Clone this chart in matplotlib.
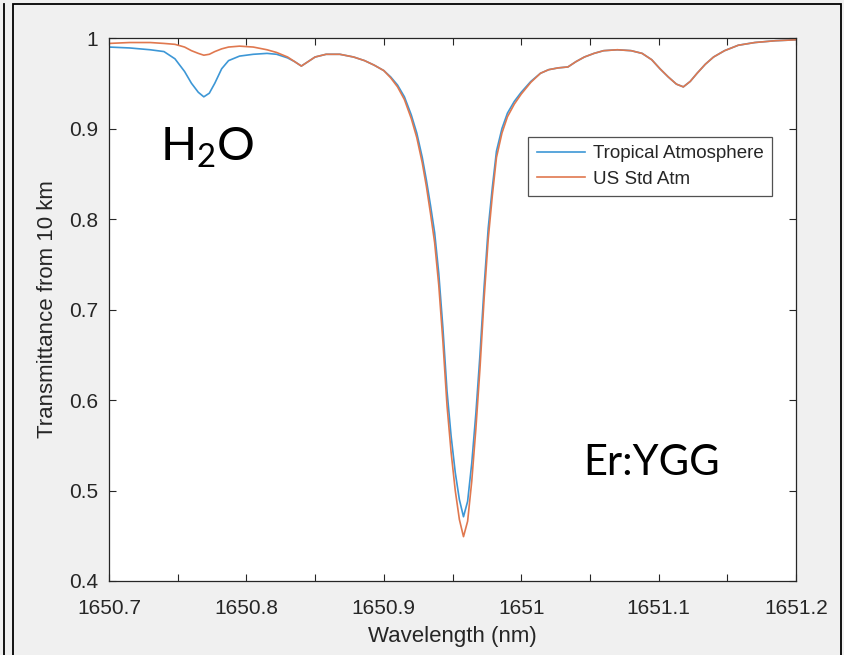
import matplotlib
matplotlib.use("Agg")
import matplotlib.pyplot as plt
from matplotlib.lines import Line2D
from matplotlib.patches import Rectangle
from matplotlib.ticker import MultipleLocator

# Transmittance from 10 km altitude near the Er:YGG line (wavelength in nm)
wavelength = [
    1650.700, 1650.715, 1650.730, 1650.740, 1650.748, 1650.755, 1650.760,
    1650.765, 1650.769, 1650.773, 1650.777, 1650.782, 1650.787, 1650.795,
    1650.805, 1650.815, 1650.822, 1650.830, 1650.835, 1650.840, 1650.845,
    1650.850, 1650.858, 1650.868, 1650.878, 1650.886, 1650.893, 1650.900,
    1650.905, 1650.910, 1650.915, 1650.920, 1650.924, 1650.928, 1650.931,
    1650.934, 1650.937, 1650.940, 1650.943, 1650.946, 1650.949, 1650.952,
    1650.955, 1650.958, 1650.961, 1650.964, 1650.967, 1650.970, 1650.973,
    1650.976, 1650.979, 1650.982, 1650.986, 1650.990, 1650.995, 1651.000,
    1651.007, 1651.014, 1651.020, 1651.027, 1651.034, 1651.040, 1651.046,
    1651.053, 1651.060, 1651.070, 1651.080, 1651.088, 1651.095, 1651.101,
    1651.107, 1651.113, 1651.118, 1651.123, 1651.128, 1651.134, 1651.140,
    1651.148, 1651.158, 1651.170, 1651.185, 1651.200,
]

tropical = [
    0.990, 0.989, 0.987, 0.985, 0.977, 0.963, 0.950,
    0.940, 0.935, 0.939, 0.950, 0.966, 0.975, 0.980,
    0.982, 0.983, 0.982, 0.978, 0.974, 0.969, 0.974,
    0.979, 0.982, 0.982, 0.979, 0.975, 0.970, 0.964,
    0.957, 0.948, 0.935, 0.915, 0.895, 0.868, 0.843,
    0.815, 0.785, 0.740, 0.680, 0.610, 0.560, 0.520,
    0.490, 0.471, 0.488, 0.530, 0.585, 0.650, 0.725,
    0.790, 0.835, 0.875, 0.900, 0.917, 0.930, 0.940,
    0.952, 0.961, 0.965, 0.967, 0.968, 0.974, 0.979,
    0.983, 0.986, 0.987, 0.986, 0.983, 0.976, 0.966,
    0.957, 0.949, 0.946, 0.952, 0.961, 0.971, 0.979,
    0.986, 0.992, 0.995, 0.997, 0.998,
]

us_std = [
    0.994, 0.995, 0.995, 0.994, 0.993, 0.990, 0.986,
    0.983, 0.981, 0.982, 0.985, 0.988, 0.990, 0.991,
    0.990, 0.987, 0.984, 0.979, 0.974, 0.969, 0.974,
    0.979, 0.982, 0.982, 0.979, 0.975, 0.970, 0.964,
    0.956, 0.946, 0.932, 0.911, 0.890, 0.862, 0.836,
    0.806, 0.774, 0.727, 0.665, 0.594, 0.542, 0.500,
    0.468, 0.449, 0.466, 0.510, 0.568, 0.635, 0.712,
    0.778, 0.826, 0.868, 0.895, 0.913, 0.927, 0.938,
    0.951, 0.961, 0.965, 0.967, 0.968, 0.974, 0.979,
    0.983, 0.986, 0.987, 0.986, 0.983, 0.976, 0.966,
    0.957, 0.949, 0.946, 0.952, 0.961, 0.971, 0.979,
    0.986, 0.992, 0.995, 0.997, 0.998,
]

series_names = ["Tropical Atmosphere", "US Std Atm"]
x_ticks = [1650.7, 1650.8, 1650.9, 1651.0, 1651.1, 1651.2]
x_tick_labels = ["1650.7", "1650.8", "1650.9", "1651", "1651.1", "1651.2"]
y_ticks = [0.4, 0.5, 0.6, 0.7, 0.8, 0.9, 1.0]
y_tick_labels = ["0.4", "0.5", "0.6", "0.7", "0.8", "0.9", "1"]

blue = "#3d97d6"
orange = "#e0784f"
dark = "#262626"

plt.rcParams["font.family"] = ["Liberation Sans", "DejaVu Sans"]

fig = plt.figure(figsize=(8.45, 6.55), dpi=100, facecolor="#f0f0f0")

# window frame lines around the figure
fig.patches.append(Rectangle((13 / 845, -0.01), (841 - 13) / 845, 1 - 4 / 655 + 0.01,
                             transform=fig.transFigure, fill=False,
                             edgecolor="black", linewidth=1.3))
fig.lines.append(Line2D([4 / 845, 4 / 845], [0, 1 - 4 / 655], transform=fig.transFigure,
                        color="black", linewidth=1.3))

ax = fig.add_axes([109 / 845, 1 - 581 / 655, 687 / 845, 543 / 655])
ax.set_facecolor("white")

ax.plot(wavelength, tropical, color=blue, linewidth=1.2, label=series_names[0])
ax.plot(wavelength, us_std, color=orange, linewidth=1.2, label=series_names[1])

ax.set_xlim(1650.7, 1651.2)
ax.set_ylim(0.4, 1.0)
ax.set_xticks(x_ticks)
ax.set_xticklabels(x_tick_labels)
ax.xaxis.set_minor_locator(MultipleLocator(0.05))
ax.set_yticks(y_ticks)
ax.set_yticklabels(y_tick_labels)

ax.tick_params(which="both", direction="in", top=True, right=True,
               length=5, width=0.8, color=dark, labelcolor=dark,
               labelsize=15)
ax.tick_params(axis="x", which="both", pad=13)
ax.tick_params(axis="y", which="both", pad=8)
for s in ax.spines.values():
    s.set_color(dark)
    s.set_linewidth(0.9)

ax.set_xlabel("Wavelength (nm)", fontsize=16, color=dark, labelpad=6)
ax.set_ylabel("Transmittance from 10 km", fontsize=16, color=dark, labelpad=8)

leg = ax.legend(loc="upper left", bbox_to_anchor=(0.610, 0.818), fontsize=13.5,
                frameon=True, fancybox=False, handlelength=2.6,
                borderpad=0.45, labelspacing=0.45, handletextpad=0.4,
                borderaxespad=0)
leg.get_frame().set_edgecolor(dark)
leg.get_frame().set_linewidth(0.9)
for t in leg.get_texts():
    t.set_color(dark)

ax.text(0.074, 0.775, "H$_\\mathregular{2}$O", transform=ax.transAxes,
        fontsize=34, family="Lato", color="black", va="baseline")
ax.text(0.690, 0.195, "Er:YGG", transform=ax.transAxes,
        fontsize=30, family="Lato", color="black", va="baseline")

fig.savefig("out.png", dpi=100, facecolor=fig.get_facecolor())
